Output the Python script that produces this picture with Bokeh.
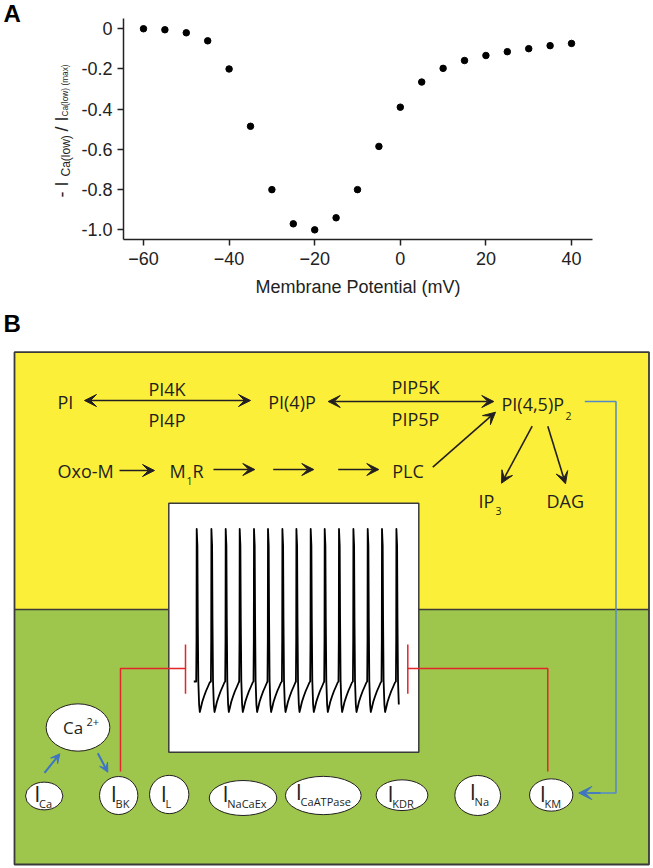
import numpy as np
from bokeh.plotting import figure
from bokeh.models import Range1d, FixedTicker, Arrow, VeeHead
from bokeh.layouts import column, row
from bokeh.embed import file_html
from bokeh.resources import INLINE
from bokeh.core.properties import value

# ---------------- Panel A data ----------------
membrane_potential = [-60, -55, -50, -45, -40, -35, -30, -25, -20, -15, -10,
                      -5, 0, 5, 10, 15, 20, 25, 30, 35, 40]
norm_current = [0.0, -0.005, -0.02, -0.06, -0.20, -0.485, -0.80, -0.97, -1.0,
                -0.94, -0.80, -0.585, -0.39, -0.265, -0.197, -0.158, -0.133,
                -0.114, -0.099, -0.084, -0.073]
x_ticks = [-60, -40, -20, 0, 20, 40]
y_ticks = [0, -0.2, -0.4, -0.6, -0.8, -1]
y_tick_labels = ["0", "-0.2", "-0.4", "-0.6", "-0.8", "-1.0"]
x_label = "Membrane Potential (mV)"
y_label_parts = ["- I", "Ca(low)", "/ I", "Ca(low) (max)"]

# ---------------- Panel B texts ----------------
pathway_labels = ["PI", "PI4K", "PI4P", "PI(4)P", "PIP5K", "PIP5P", "PI(4,5)P",
                  "Oxo-M", "M", "R", "PLC", "IP", "DAG"]
pathway_subs = ["2", "1", "3"]
current_names = ["Ca", "BK", "L", "NaCaEx", "CaATPase", "KDR", "Na", "KM"]

# ---------------- styles ----------------
TXT = "#231f20"
YELLOW = "#fcef3a"
GREEN = "#9ec54c"
RED = "#e3262b"
BLUE = "#3e74c4"
BLUE_LINE = "#5389c6"
BORDER = "#3a3a3a"
FA = "Liberation Sans"
FB = "Open Sans"


def blank(w, h, xr, yr):
    f = figure(width=w, height=h, x_range=Range1d(*xr), y_range=Range1d(*yr),
               output_backend="svg", toolbar_location=None, min_border=0,
               x_axis_location=None, y_axis_location=None, frame_align=False)
    f.outline_line_color = None
    f.grid.visible = False
    return f


# ================= Panel A: label strip =================
WY = 76
pY = blank(WY, 310, (0, WY), (310, 0))
pY.text(x=[3], y=[13.4], text=["A"], text_font=value(FA), text_font_size="24px",
        text_font_style="bold", text_color="black", text_baseline="middle")
ylab_pos = [(61.5, 197, "18px"), (65.5, 176, "12px"), (61.5, 131, "18px"), (64.5, 116, "8.3px")]
for (bx, by, fs), t in zip(ylab_pos, y_label_parts):
    pY.text(x=[bx], y=[by], text=[t], angle=np.pi / 2, text_font=value(FA),
            text_font_size=fs, text_color="#222222", text_align="left",
            text_baseline="middle")

# ================= Panel A: plot =================
XA0, XA1 = -64.67, 44.9
YA0, YA1 = -1.048, 0.051
pA = figure(width=653 - WY, height=310, x_range=Range1d(XA0, XA1), y_range=Range1d(YA0, YA1),
            output_backend="svg", toolbar_location=None, frame_align=False,
            min_border_left=123 - WY, min_border_right=61, min_border_top=18,
            min_border_bottom=71)
pA.outline_line_color = None
pA.grid.visible = False
pA.scatter(membrane_potential, norm_current, size=6.5, color="black")

for ax in (pA.xaxis[0], pA.yaxis[0]):
    ax.axis_line_width = 1.5
    ax.axis_line_color = "#222222"
    ax.major_tick_line_width = 1.5
    ax.major_tick_line_color = "#222222"
    ax.major_tick_out = 6
    ax.major_tick_in = 0
    ax.minor_tick_line_color = None
    ax.major_label_text_font = FA
    ax.major_label_text_font_size = "18px"
    ax.major_label_text_color = "#222222"
pA.xaxis.ticker = FixedTicker(ticks=x_ticks)
pA.yaxis.ticker = FixedTicker(ticks=y_ticks)
pA.yaxis.major_label_overrides = {t: s for t, s in zip(y_ticks, y_tick_labels)}
pA.xaxis.major_label_standoff = 6
pA.yaxis.major_label_standoff = 5
pA.xaxis.axis_label = x_label
pA.xaxis.axis_label_text_font = FA
pA.xaxis.axis_label_text_font_size = "18px"
pA.xaxis.axis_label_text_font_style = "normal"
pA.xaxis.axis_label_text_color = "#222222"
pA.xaxis.axis_label_standoff = 9

# ================= Panel B =================
pB = blank(653, 558, (0, 653), (868, 310))

L, R, T, M, B = 14, 648.5, 351.7, 609, 864
pB.quad(left=[L], right=[R], top=[T], bottom=[M], fill_color=YELLOW, line_color=None)
pB.quad(left=[L], right=[R], top=[M], bottom=[B], fill_color=GREEN, line_color=None)
pB.line([L, R], [M, M], line_color=BORDER, line_width=1.5)
pB.quad(left=[L], right=[R], top=[T], bottom=[B], fill_color=None, line_color=BORDER, line_width=1.8)

# inset trace box
pB.quad(left=[168.3], right=[418.3], top=[502.7], bottom=[751.7], fill_color="white",
        line_color=BORDER, line_width=1.5)

# spike train
spike_x = [196, 210.7, 225, 239, 253.3, 267.3, 281.7, 295.7, 310, 324, 338.3, 352.7,
           367, 381.3, 395.7]
tmpl = [(-0.3, 681), (0, 640), (0.2, 528.5), (0.9, 545), (1.3, 620), (1.8, 680),
        (2.6, 704), (3.3, 711.5), (4.2, 708), (5.7, 701.5), (7.5, 696), (9.5, 690.5),
        (11.5, 686), (13.2, 682)]
sx, sy = [193.3], [681]
for i, xs in enumerate(spike_x):
    pts = tmpl if i < len(spike_x) - 1 else tmpl[:7]
    for dx, yy in pts:
        sx.append(xs + dx)
        sy.append(yy)
pB.line(sx, sy, line_color="black", line_width=1.8, line_join="round")

# red inhibition lines
pB.line([120, 120, 185], [771, 668, 668], line_color=RED, line_width=1.5)
pB.line([547.3, 547.3, 407.3], [771, 668, 668], line_color=RED, line_width=1.5)
pB.segment(x0=[185, 407.3], y0=[644, 644], x1=[185, 407.3], y1=[693.3, 693.3],
           line_color=RED, line_width=1.5)

# blue feedback path
pB.line([584.3, 615.5, 615.5, 588], [401, 401, 792.5, 792.5], line_color=BLUE_LINE, line_width=1.5)


def arrow(x0, y0, x1, y1, color=TXT, size=12, both=False, lw=1.6):
    head = lambda: VeeHead(size=size, fill_color=color, line_color=color, line_width=1)
    a = Arrow(end=head(), start=head() if both else None, x_start=x0, y_start=y0,
              x_end=x1, y_end=y1, line_color=color, line_width=lw)
    pB.add_layout(a)


arrow(84, 400, 250, 400, both=True)
arrow(327.7, 401, 493.3, 401, both=True)
arrow(119, 470, 154, 470)
arrow(213, 469, 254.3, 469)
arrow(272.7, 469, 313.3, 469)
arrow(337.7, 469, 378.3, 469)
arrow(432.3, 466.7, 495, 411.7)
arrow(531.7, 425.7, 501, 482.7)
arrow(547.3, 425.7, 565, 483.3)
arrow(600, 792.5, 578.3, 792.5, color=BLUE, size=13, lw=1.5)
arrow(44, 772.3, 59.3, 753.3, color=BLUE, size=9, lw=2)
arrow(97.3, 752.7, 107.3, 771.7, color=BLUE, size=9, lw=2)

# pathway text (y = centre of capitals)
main_pos = [(57, 401.7, "left"), (166.5, 388, "center"), (166.5, 419.7, "center"),
            (267.7, 401.7, "left"), (415, 386.7, "center"), (415, 418.3, "center"),
            (501, 403.3, "left"), (57, 470, "left"), (169, 470, "left"),
            (192, 470, "left"), (391.7, 470, "left"), (478, 500, "left"),
            (546, 500, "left")]
for (x, y, al), t in zip(main_pos, pathway_labels):
    pB.text(x=[x], y=[y], text=[t], text_font=value(FB), text_font_size="18px",
            text_color=TXT, text_align=al, text_baseline="middle")
sub_pos = [(565, 415), (186, 480), (495, 510)]
for (x, y), t in zip(sub_pos, pathway_subs):
    pB.text(x=[x], y=[y], text=[t], text_font=value(FB), text_font_size="10.5px",
            text_color=TXT, text_align="left", text_baseline="middle")

# Ca2+ pool
pB.ellipse(x=[77.5], y=[727], width=[63.7], height=[47.3], fill_color="white",
           line_color=TXT, line_width=1)
pB.text(x=[62.5], y=[727.3], text=["Ca"], text_font=value(FB), text_font_size="17px",
        text_color=TXT, text_baseline="middle")
pB.text(x=[86], y=[721.7], text=["2+"], text_font=value(FB), text_font_size="11px",
        text_color=TXT, text_baseline="middle")

# current ellipses
ell_cx = [43.7, 118.2, 168.7, 242.5, 322.8, 401.5, 477.2, 550.7]
ell_cy = [795.5, 795, 794, 797.5, 795, 794.7, 795, 794.5]
ell_w = [37.3, 38.3, 39.3, 67.5, 75.7, 51.7, 45.7, 43.3]
ell_h = [27.7, 38, 38.3, 35, 38.3, 30.7, 40, 32.3]
i_x = [36.7, 113.3, 163.3, 225, 298.3, 390, 472.3, 542.3]
i_mid = [792, 792, 792, 792.5, 790, 792.5, 790.7, 792.5]
pB.ellipse(x=ell_cx, y=ell_cy, width=ell_w, height=ell_h, fill_color="white",
           line_color=TXT, line_width=1)
pB.text(x=i_x, y=i_mid, text=["I"] * len(i_x), text_font=value(FB), text_font_size="22px",
        text_color=TXT, text_align="center", text_baseline="middle")
pB.text(x=[v + 1.8 for v in i_x], y=[b + 10.5 for b in i_mid], text=current_names,
        text_font=value(FB), text_font_size="11px", text_color=TXT, text_align="left",
        text_baseline="middle")

pB.text(x=[3], y=[323.4], text=["B"], text_font=value(FA), text_font_size="24px",
        text_font_style="bold", text_color="black", text_baseline="middle")

layout = column(row(pY, pA, spacing=0), pB, spacing=0)
open("out.html", "w").write(file_html(layout, INLINE))
